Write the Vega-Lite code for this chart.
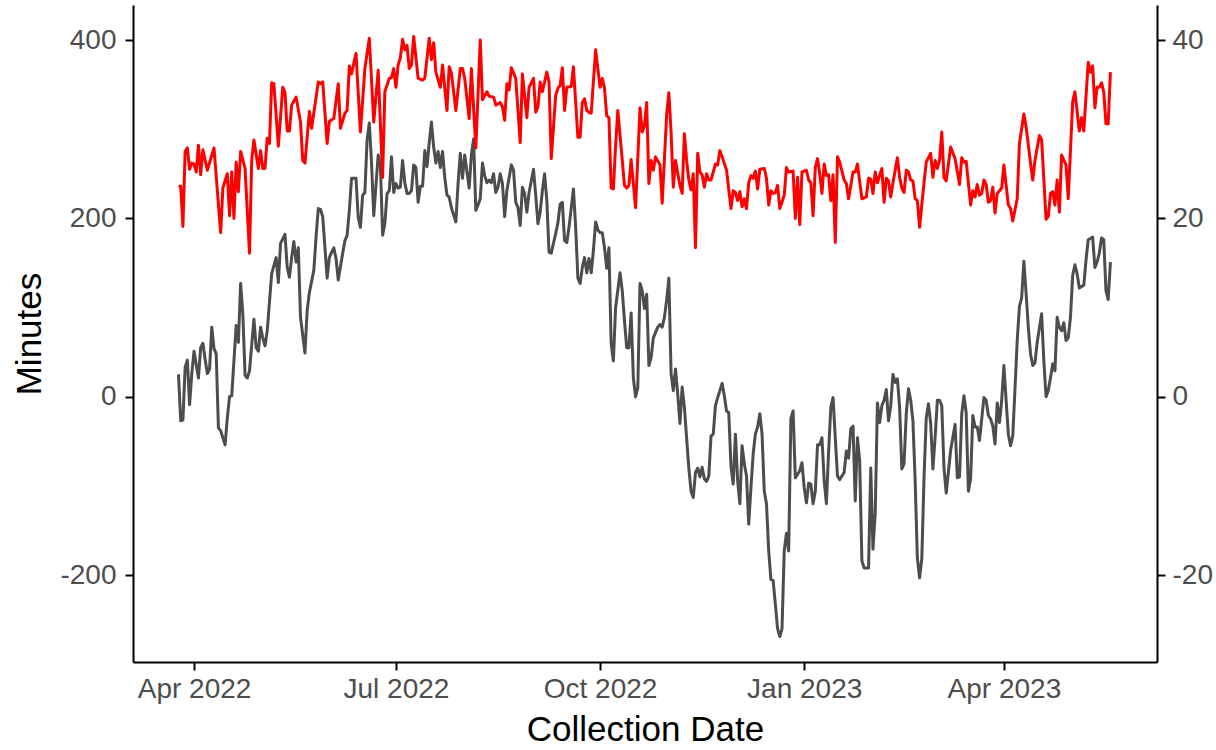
{
"$schema": "https://vega.github.io/schema/vega-lite/v6.json",
"width": 1024, "height": 657,
"autosize": {"type": "none"},
"padding": {"left": 133, "top": 5, "right": 59, "bottom": 88},
"background": "white",
"config": {"view": {"stroke": null}, "font": "Liberation Sans",
 "axis": {"grid": false, "domainColor": "#000000", "domainWidth": 2, "tickColor": "#000000", "tickWidth": 2, "tickSize": 8,
  "labelFont": "Liberation Sans", "labelFontSize": 28, "labelColor": "#4D4D4D", "labelPadding": 6,
  "titleFont": "Liberation Sans", "titleFontSize": 35, "titleFontWeight": "normal", "titleColor": "#000000"}},
"datasets": {
"minutes": [
{"date":"2022-03-25","minutes":25},{"date":"2022-03-26","minutes":-27},{"date":"2022-03-27","minutes":-26},{"date":"2022-03-28","minutes":33},{"date":"2022-03-29","minutes":41},{"date":"2022-03-30","minutes":-9},{"date":"2022-03-31","minutes":26},
{"date":"2022-04-01","minutes":51},{"date":"2022-04-03","minutes":21},{"date":"2022-04-04","minutes":55},{"date":"2022-04-05","minutes":60},{"date":"2022-04-06","minutes":42},{"date":"2022-04-07","minutes":26},{"date":"2022-04-08","minutes":31},{"date":"2022-04-09","minutes":78},{"date":"2022-04-10","minutes":54},{"date":"2022-04-11","minutes":48},{"date":"2022-04-12","minutes":-35},{"date":"2022-04-13","minutes":-38},{"date":"2022-04-15","minutes":-54},{"date":"2022-04-16","minutes":-24},{"date":"2022-04-17","minutes":0},{"date":"2022-04-18","minutes":1},{"date":"2022-04-20","minutes":80},{"date":"2022-04-21","minutes":61},{"date":"2022-04-22","minutes":127},{"date":"2022-04-23","minutes":93},{"date":"2022-04-24","minutes":24},{"date":"2022-04-25","minutes":21},{"date":"2022-04-26","minutes":29},{"date":"2022-04-28","minutes":87},{"date":"2022-04-29","minutes":55},{"date":"2022-04-30","minutes":51},
{"date":"2022-05-01","minutes":78},{"date":"2022-05-02","minutes":66},{"date":"2022-05-03","minutes":57},{"date":"2022-05-04","minutes":74},{"date":"2022-05-06","minutes":138},{"date":"2022-05-07","minutes":147},{"date":"2022-05-08","minutes":156},{"date":"2022-05-09","minutes":128},{"date":"2022-05-10","minutes":172},{"date":"2022-05-12","minutes":182},{"date":"2022-05-13","minutes":145},{"date":"2022-05-14","minutes":134},{"date":"2022-05-15","minutes":156},{"date":"2022-05-16","minutes":174},{"date":"2022-05-17","minutes":151},{"date":"2022-05-18","minutes":167},{"date":"2022-05-19","minutes":89},{"date":"2022-05-21","minutes":49},{"date":"2022-05-22","minutes":97},{"date":"2022-05-23","minutes":117},{"date":"2022-05-25","minutes":142},{"date":"2022-05-26","minutes":179},{"date":"2022-05-27","minutes":211},{"date":"2022-05-28","minutes":210},{"date":"2022-05-29","minutes":202},{"date":"2022-05-31","minutes":133},
{"date":"2022-06-01","minutes":156},{"date":"2022-06-02","minutes":162},{"date":"2022-06-03","minutes":167},{"date":"2022-06-04","minutes":155},{"date":"2022-06-05","minutes":131},{"date":"2022-06-07","minutes":161},{"date":"2022-06-08","minutes":175},{"date":"2022-06-09","minutes":181},{"date":"2022-06-10","minutes":209},{"date":"2022-06-11","minutes":245},{"date":"2022-06-13","minutes":245},{"date":"2022-06-14","minutes":201},{"date":"2022-06-15","minutes":190},{"date":"2022-06-16","minutes":226},{"date":"2022-06-17","minutes":229},{"date":"2022-06-18","minutes":288},{"date":"2022-06-19","minutes":307},{"date":"2022-06-20","minutes":262},{"date":"2022-06-21","minutes":203},{"date":"2022-06-23","minutes":271},{"date":"2022-06-24","minutes":260},{"date":"2022-06-25","minutes":181},{"date":"2022-06-26","minutes":194},{"date":"2022-06-27","minutes":228},{"date":"2022-06-28","minutes":231},{"date":"2022-06-29","minutes":269},{"date":"2022-06-30","minutes":229},
{"date":"2022-07-01","minutes":239},{"date":"2022-07-02","minutes":234},{"date":"2022-07-03","minutes":235},{"date":"2022-07-04","minutes":265},{"date":"2022-07-05","minutes":240},{"date":"2022-07-06","minutes":228},{"date":"2022-07-07","minutes":228},{"date":"2022-07-08","minutes":231},{"date":"2022-07-09","minutes":260},{"date":"2022-07-10","minutes":257},{"date":"2022-07-11","minutes":218},{"date":"2022-07-12","minutes":236},{"date":"2022-07-13","minutes":236},{"date":"2022-07-14","minutes":276},{"date":"2022-07-15","minutes":258},{"date":"2022-07-16","minutes":285},{"date":"2022-07-17","minutes":308},{"date":"2022-07-18","minutes":280},{"date":"2022-07-19","minutes":262},{"date":"2022-07-20","minutes":275},{"date":"2022-07-21","minutes":257},{"date":"2022-07-22","minutes":275},{"date":"2022-07-23","minutes":246},{"date":"2022-07-24","minutes":226},{"date":"2022-07-25","minutes":224},{"date":"2022-07-26","minutes":212},{"date":"2022-07-28","minutes":196},{"date":"2022-07-29","minutes":239},{"date":"2022-07-30","minutes":273},{"date":"2022-07-31","minutes":245},
{"date":"2022-08-01","minutes":271},{"date":"2022-08-03","minutes":234},{"date":"2022-08-04","minutes":271},{"date":"2022-08-05","minutes":289},{"date":"2022-08-06","minutes":209},{"date":"2022-08-07","minutes":215},{"date":"2022-08-08","minutes":222},{"date":"2022-08-09","minutes":262},{"date":"2022-08-10","minutes":248},{"date":"2022-08-11","minutes":240},{"date":"2022-08-12","minutes":243},{"date":"2022-08-13","minutes":240},{"date":"2022-08-14","minutes":250},{"date":"2022-08-15","minutes":229},{"date":"2022-08-16","minutes":235},{"date":"2022-08-17","minutes":250},{"date":"2022-08-18","minutes":239},{"date":"2022-08-19","minutes":202},{"date":"2022-08-20","minutes":231},{"date":"2022-08-22","minutes":260},{"date":"2022-08-23","minutes":254},{"date":"2022-08-24","minutes":218},{"date":"2022-08-25","minutes":212},{"date":"2022-08-26","minutes":192},{"date":"2022-08-27","minutes":235},{"date":"2022-08-28","minutes":228},{"date":"2022-08-29","minutes":207},{"date":"2022-08-30","minutes":229},
{"date":"2022-09-01","minutes":255},{"date":"2022-09-02","minutes":226},{"date":"2022-09-03","minutes":194},{"date":"2022-09-04","minutes":207},{"date":"2022-09-05","minutes":231},{"date":"2022-09-06","minutes":250},{"date":"2022-09-07","minutes":220},{"date":"2022-09-08","minutes":162},{"date":"2022-09-09","minutes":161},{"date":"2022-09-11","minutes":183},{"date":"2022-09-12","minutes":195},{"date":"2022-09-13","minutes":216},{"date":"2022-09-14","minutes":218},{"date":"2022-09-15","minutes":175},{"date":"2022-09-16","minutes":173},{"date":"2022-09-17","minutes":190},{"date":"2022-09-19","minutes":233},{"date":"2022-09-20","minutes":190},{"date":"2022-09-21","minutes":133},{"date":"2022-09-22","minutes":127},{"date":"2022-09-23","minutes":145},{"date":"2022-09-24","minutes":156},{"date":"2022-09-25","minutes":139},{"date":"2022-09-26","minutes":155},{"date":"2022-09-27","minutes":139},{"date":"2022-09-28","minutes":164},{"date":"2022-09-29","minutes":196},{"date":"2022-09-30","minutes":187},
{"date":"2022-10-01","minutes":184},{"date":"2022-10-02","minutes":184},{"date":"2022-10-03","minutes":167},{"date":"2022-10-04","minutes":144},{"date":"2022-10-05","minutes":167},{"date":"2022-10-06","minutes":60},{"date":"2022-10-07","minutes":40},{"date":"2022-10-08","minutes":100},{"date":"2022-10-10","minutes":139},{"date":"2022-10-11","minutes":119},{"date":"2022-10-12","minutes":85},{"date":"2022-10-13","minutes":55},{"date":"2022-10-14","minutes":55},{"date":"2022-10-15","minutes":94},{"date":"2022-10-16","minutes":21},{"date":"2022-10-17","minutes":0},{"date":"2022-10-18","minutes":10},{"date":"2022-10-19","minutes":127},{"date":"2022-10-20","minutes":119},{"date":"2022-10-21","minutes":99},{"date":"2022-10-22","minutes":115},{"date":"2022-10-23","minutes":35},{"date":"2022-10-24","minutes":44},{"date":"2022-10-25","minutes":66},{"date":"2022-10-27","minutes":78},{"date":"2022-10-28","minutes":81},{"date":"2022-10-29","minutes":78},{"date":"2022-10-30","minutes":89},{"date":"2022-10-31","minutes":108},
{"date":"2022-11-01","minutes":133},{"date":"2022-11-02","minutes":26},{"date":"2022-11-03","minutes":7},{"date":"2022-11-04","minutes":31},{"date":"2022-11-05","minutes":3},{"date":"2022-11-06","minutes":-30},{"date":"2022-11-07","minutes":11},{"date":"2022-11-08","minutes":-12},{"date":"2022-11-10","minutes":-80},{"date":"2022-11-11","minutes":-106},{"date":"2022-11-12","minutes":-113},{"date":"2022-11-13","minutes":-85},{"date":"2022-11-14","minutes":-80},{"date":"2022-11-15","minutes":-90},{"date":"2022-11-16","minutes":-79},{"date":"2022-11-17","minutes":-92},{"date":"2022-11-18","minutes":-95},{"date":"2022-11-19","minutes":-89},{"date":"2022-11-20","minutes":-44},{"date":"2022-11-21","minutes":-42},{"date":"2022-11-22","minutes":-10},{"date":"2022-11-23","minutes":-1},{"date":"2022-11-25","minutes":15},{"date":"2022-11-26","minutes":1},{"date":"2022-11-27","minutes":-16},{"date":"2022-11-28","minutes":-18},{"date":"2022-11-29","minutes":-78},{"date":"2022-11-30","minutes":-98},
{"date":"2022-12-01","minutes":-42},{"date":"2022-12-02","minutes":-94},{"date":"2022-12-03","minutes":-120},{"date":"2022-12-04","minutes":-55},{"date":"2022-12-05","minutes":-75},{"date":"2022-12-06","minutes":-89},{"date":"2022-12-07","minutes":-143},{"date":"2022-12-08","minutes":-102},{"date":"2022-12-09","minutes":-64},{"date":"2022-12-10","minutes":-42},{"date":"2022-12-11","minutes":-34},{"date":"2022-12-12","minutes":-19},{"date":"2022-12-13","minutes":-42},{"date":"2022-12-14","minutes":-106},{"date":"2022-12-15","minutes":-120},{"date":"2022-12-16","minutes":-173},{"date":"2022-12-17","minutes":-205},{"date":"2022-12-18","minutes":-206},{"date":"2022-12-19","minutes":-233},{"date":"2022-12-20","minutes":-260},{"date":"2022-12-21","minutes":-269},{"date":"2022-12-22","minutes":-260},{"date":"2022-12-23","minutes":-173},{"date":"2022-12-24","minutes":-153},{"date":"2022-12-25","minutes":-173},{"date":"2022-12-26","minutes":-24},{"date":"2022-12-27","minutes":-16},{"date":"2022-12-28","minutes":-91},{"date":"2022-12-30","minutes":-83},{"date":"2022-12-31","minutes":-74},
{"date":"2023-01-01","minutes":-102},{"date":"2023-01-02","minutes":-119},{"date":"2023-01-03","minutes":-97},{"date":"2023-01-04","minutes":-98},{"date":"2023-01-05","minutes":-120},{"date":"2023-01-06","minutes":-106},{"date":"2023-01-07","minutes":-54},{"date":"2023-01-08","minutes":-54},{"date":"2023-01-09","minutes":-46},{"date":"2023-01-10","minutes":-94},{"date":"2023-01-11","minutes":-120},{"date":"2023-01-12","minutes":-61},{"date":"2023-01-13","minutes":-12},{"date":"2023-01-14","minutes":-1},{"date":"2023-01-15","minutes":-46},{"date":"2023-01-16","minutes":-89},{"date":"2023-01-17","minutes":-93},{"date":"2023-01-19","minutes":-85},{"date":"2023-01-20","minutes":-61},{"date":"2023-01-21","minutes":-69},{"date":"2023-01-22","minutes":-36},{"date":"2023-01-23","minutes":-33},{"date":"2023-01-24","minutes":-117},{"date":"2023-01-25","minutes":-46},{"date":"2023-01-26","minutes":-72},{"date":"2023-01-27","minutes":-184},{"date":"2023-01-28","minutes":-192},{"date":"2023-01-30","minutes":-192},{"date":"2023-01-31","minutes":-80},
{"date":"2023-02-01","minutes":-171},{"date":"2023-02-02","minutes":-131},{"date":"2023-02-03","minutes":-7},{"date":"2023-02-04","minutes":-29},{"date":"2023-02-05","minutes":-10},{"date":"2023-02-06","minutes":-4},{"date":"2023-02-07","minutes":8},{"date":"2023-02-08","minutes":-27},{"date":"2023-02-09","minutes":-10},{"date":"2023-02-10","minutes":25},{"date":"2023-02-11","minutes":16},{"date":"2023-02-12","minutes":20},{"date":"2023-02-13","minutes":-12},{"date":"2023-02-14","minutes":-81},{"date":"2023-02-15","minutes":-75},{"date":"2023-02-16","minutes":-19},{"date":"2023-02-17","minutes":9},{"date":"2023-02-18","minutes":-4},{"date":"2023-02-19","minutes":-27},{"date":"2023-02-20","minutes":-94},{"date":"2023-02-21","minutes":-181},{"date":"2023-02-22","minutes":-203},{"date":"2023-02-23","minutes":-182},{"date":"2023-02-24","minutes":-91},{"date":"2023-02-25","minutes":-24},{"date":"2023-02-26","minutes":-8},{"date":"2023-02-27","minutes":-30},{"date":"2023-02-28","minutes":-81},
{"date":"2023-03-01","minutes":-46},{"date":"2023-03-02","minutes":-4},{"date":"2023-03-03","minutes":-4},{"date":"2023-03-04","minutes":-10},{"date":"2023-03-05","minutes":-80},{"date":"2023-03-06","minutes":-108},{"date":"2023-03-08","minutes":-60},{"date":"2023-03-10","minutes":-31},{"date":"2023-03-11","minutes":-91},{"date":"2023-03-12","minutes":-90},{"date":"2023-03-13","minutes":-19},{"date":"2023-03-14","minutes":1},{"date":"2023-03-15","minutes":-18},{"date":"2023-03-16","minutes":-106},{"date":"2023-03-17","minutes":-92},{"date":"2023-03-18","minutes":-21},{"date":"2023-03-19","minutes":-34},{"date":"2023-03-20","minutes":-34},{"date":"2023-03-21","minutes":-49},{"date":"2023-03-22","minutes":-25},{"date":"2023-03-23","minutes":-1},{"date":"2023-03-24","minutes":-4},{"date":"2023-03-25","minutes":-21},{"date":"2023-03-26","minutes":-25},{"date":"2023-03-27","minutes":-33},{"date":"2023-03-28","minutes":-53},{"date":"2023-03-29","minutes":-7},{"date":"2023-03-30","minutes":-29},{"date":"2023-03-31","minutes":-4},
{"date":"2023-04-01","minutes":35},{"date":"2023-04-02","minutes":-4},{"date":"2023-04-03","minutes":-42},{"date":"2023-04-04","minutes":-55},{"date":"2023-04-05","minutes":-44},{"date":"2023-04-06","minutes":9},{"date":"2023-04-07","minutes":63},{"date":"2023-04-08","minutes":101},{"date":"2023-04-09","minutes":111},{"date":"2023-04-10","minutes":152},{"date":"2023-04-11","minutes":116},{"date":"2023-04-12","minutes":78},{"date":"2023-04-13","minutes":48},{"date":"2023-04-14","minutes":35},{"date":"2023-04-15","minutes":38},{"date":"2023-04-16","minutes":61},{"date":"2023-04-18","minutes":93},{"date":"2023-04-19","minutes":40},{"date":"2023-04-20","minutes":0},{"date":"2023-04-21","minutes":7},{"date":"2023-04-22","minutes":21},{"date":"2023-04-23","minutes":37},{"date":"2023-04-24","minutes":29},{"date":"2023-04-25","minutes":89},{"date":"2023-04-26","minutes":78},{"date":"2023-04-27","minutes":74},{"date":"2023-04-28","minutes":83},{"date":"2023-04-29","minutes":63},{"date":"2023-04-30","minutes":66},
{"date":"2023-05-01","minutes":89},{"date":"2023-05-02","minutes":136},{"date":"2023-05-03","minutes":148},{"date":"2023-05-04","minutes":138},{"date":"2023-05-05","minutes":122},{"date":"2023-05-07","minutes":125},{"date":"2023-05-08","minutes":153},{"date":"2023-05-09","minutes":176},{"date":"2023-05-11","minutes":179},{"date":"2023-05-12","minutes":145},{"date":"2023-05-13","minutes":151},{"date":"2023-05-14","minutes":161},{"date":"2023-05-15","minutes":178},{"date":"2023-05-16","minutes":176},{"date":"2023-05-17","minutes":119},{"date":"2023-05-18","minutes":109},{"date":"2023-05-19","minutes":151}
],
"secondary": [
{"date":"2022-03-25","value":23.6},{"date":"2022-03-26","value":23.6},{"date":"2022-03-27","value":19.1},{"date":"2022-03-28","value":27.5},{"date":"2022-03-29","value":27.9},{"date":"2022-03-30","value":25.5},{"date":"2022-03-31","value":26.2},
{"date":"2022-04-01","value":26.1},{"date":"2022-04-02","value":25.2},{"date":"2022-04-03","value":28.2},{"date":"2022-04-04","value":24.9},{"date":"2022-04-05","value":27.7},{"date":"2022-04-07","value":25.4},{"date":"2022-04-10","value":27.9},{"date":"2022-04-13","value":18.4},{"date":"2022-04-14","value":23.4},{"date":"2022-04-16","value":25.0},{"date":"2022-04-17","value":20.3},{"date":"2022-04-18","value":25.2},{"date":"2022-04-19","value":20.0},{"date":"2022-04-20","value":26.3},{"date":"2022-04-21","value":23.0},{"date":"2022-04-22","value":27.5},{"date":"2022-04-24","value":25.6},{"date":"2022-04-26","value":16.1},{"date":"2022-04-27","value":26.5},{"date":"2022-04-28","value":28.8},{"date":"2022-04-30","value":25.6},
{"date":"2022-05-01","value":27.6},{"date":"2022-05-02","value":25.6},{"date":"2022-05-03","value":25.6},{"date":"2022-05-04","value":29.0},{"date":"2022-05-05","value":28.4},{"date":"2022-05-06","value":35.2},{"date":"2022-05-07","value":35.1},{"date":"2022-05-09","value":28.1},{"date":"2022-05-11","value":34.7},{"date":"2022-05-12","value":34.1},{"date":"2022-05-13","value":29.8},{"date":"2022-05-14","value":29.8},{"date":"2022-05-15","value":32.7},{"date":"2022-05-17","value":33.6},{"date":"2022-05-19","value":30.8},{"date":"2022-05-20","value":26.5},{"date":"2022-05-21","value":26.2},{"date":"2022-05-23","value":32.0},{"date":"2022-05-24","value":30.1},{"date":"2022-05-27","value":35.3},{"date":"2022-05-28","value":35.1},{"date":"2022-05-29","value":35.3},{"date":"2022-05-31","value":28.4},
{"date":"2022-06-01","value":30.9},{"date":"2022-06-03","value":31.2},{"date":"2022-06-05","value":35.1},{"date":"2022-06-06","value":30.1},{"date":"2022-06-08","value":31.8},{"date":"2022-06-09","value":32.1},{"date":"2022-06-10","value":37.1},{"date":"2022-06-11","value":36.2},{"date":"2022-06-13","value":38.5},{"date":"2022-06-15","value":29.7},{"date":"2022-06-17","value":36.8},{"date":"2022-06-19","value":40.2},{"date":"2022-06-21","value":30.8},{"date":"2022-06-23","value":36.6},{"date":"2022-06-25","value":24.6},{"date":"2022-06-26","value":34.2},{"date":"2022-06-28","value":35.7},{"date":"2022-06-29","value":35.8},{"date":"2022-06-30","value":36.8},
{"date":"2022-07-01","value":34.7},{"date":"2022-07-02","value":37.2},{"date":"2022-07-03","value":38.0},{"date":"2022-07-04","value":40.1},{"date":"2022-07-05","value":38.9},{"date":"2022-07-06","value":39.4},{"date":"2022-07-07","value":36.8},{"date":"2022-07-08","value":37.2},{"date":"2022-07-09","value":40.4},{"date":"2022-07-11","value":35.7},{"date":"2022-07-13","value":35.5},{"date":"2022-07-14","value":35.7},{"date":"2022-07-16","value":40.2},{"date":"2022-07-17","value":37.8},{"date":"2022-07-18","value":39.7},{"date":"2022-07-19","value":36.4},{"date":"2022-07-21","value":34.7},{"date":"2022-07-22","value":37.2},{"date":"2022-07-24","value":32.1},{"date":"2022-07-25","value":37.0},{"date":"2022-07-26","value":36.3},{"date":"2022-07-28","value":32.1},{"date":"2022-07-30","value":36.8},{"date":"2022-07-31","value":36.8},
{"date":"2022-08-01","value":35.7},{"date":"2022-08-03","value":31.2},{"date":"2022-08-04","value":36.8},{"date":"2022-08-06","value":27.9},{"date":"2022-08-08","value":40.0},{"date":"2022-08-09","value":33.3},{"date":"2022-08-11","value":34.2},{"date":"2022-08-12","value":33.7},{"date":"2022-08-14","value":33.6},{"date":"2022-08-15","value":32.7},{"date":"2022-08-17","value":33.0},{"date":"2022-08-18","value":32.5},{"date":"2022-08-19","value":31.0},{"date":"2022-08-20","value":35.1},{"date":"2022-08-21","value":34.4},{"date":"2022-08-22","value":36.9},{"date":"2022-08-24","value":35.7},{"date":"2022-08-26","value":28.5},{"date":"2022-08-27","value":36.2},{"date":"2022-08-29","value":31.3},{"date":"2022-08-30","value":34.7},
{"date":"2022-09-01","value":35.7},{"date":"2022-09-02","value":31.9},{"date":"2022-09-03","value":32.5},{"date":"2022-09-04","value":35.3},{"date":"2022-09-05","value":34.2},{"date":"2022-09-07","value":36.4},{"date":"2022-09-08","value":35.3},{"date":"2022-09-09","value":26.7},{"date":"2022-09-11","value":33.8},{"date":"2022-09-12","value":34.6},{"date":"2022-09-13","value":34.9},{"date":"2022-09-14","value":36.9},{"date":"2022-09-15","value":32.1},{"date":"2022-09-16","value":34.7},{"date":"2022-09-18","value":34.8},{"date":"2022-09-19","value":37.0},{"date":"2022-09-21","value":29.1},{"date":"2022-09-22","value":29.1},{"date":"2022-09-23","value":33.0},{"date":"2022-09-24","value":33.4},{"date":"2022-09-25","value":32.1},{"date":"2022-09-26","value":31.9},{"date":"2022-09-27","value":31.8},{"date":"2022-09-29","value":38.9},
{"date":"2022-10-01","value":34.7},{"date":"2022-10-02","value":35.7},{"date":"2022-10-03","value":34.6},{"date":"2022-10-04","value":31.5},{"date":"2022-10-05","value":31.3},{"date":"2022-10-06","value":23.4},{"date":"2022-10-07","value":23.3},{"date":"2022-10-08","value":28.2},{"date":"2022-10-09","value":32.1},{"date":"2022-10-12","value":23.7},{"date":"2022-10-13","value":23.4},{"date":"2022-10-14","value":23.7},{"date":"2022-10-15","value":26.6},{"date":"2022-10-17","value":21.2},{"date":"2022-10-19","value":32.4},{"date":"2022-10-20","value":29.7},{"date":"2022-10-21","value":30.4},{"date":"2022-10-22","value":33.0},{"date":"2022-10-23","value":23.9},{"date":"2022-10-24","value":26.5},{"date":"2022-10-25","value":25.4},{"date":"2022-10-26","value":26.9},{"date":"2022-10-28","value":26.0},{"date":"2022-10-29","value":21.7},{"date":"2022-10-31","value":31.6},
{"date":"2022-11-01","value":34.1},{"date":"2022-11-02","value":29.7},{"date":"2022-11-03","value":23.5},{"date":"2022-11-04","value":26.5},{"date":"2022-11-06","value":23.7},{"date":"2022-11-07","value":22.8},{"date":"2022-11-08","value":29.5},{"date":"2022-11-09","value":26.5},{"date":"2022-11-10","value":24.3},{"date":"2022-11-11","value":23.2},{"date":"2022-11-12","value":25.0},{"date":"2022-11-13","value":16.7},{"date":"2022-11-14","value":27.3},{"date":"2022-11-15","value":25.2},{"date":"2022-11-16","value":24.9},{"date":"2022-11-17","value":23.5},{"date":"2022-11-18","value":25.0},{"date":"2022-11-19","value":24.3},{"date":"2022-11-20","value":24.3},{"date":"2022-11-22","value":26.1},{"date":"2022-11-23","value":26.0},{"date":"2022-11-24","value":27.6},{"date":"2022-11-25","value":26.9},{"date":"2022-11-27","value":25.4},{"date":"2022-11-29","value":21.1},{"date":"2022-11-30","value":23.1},
{"date":"2022-12-01","value":22.9},{"date":"2022-12-02","value":22.0},{"date":"2022-12-03","value":23.0},{"date":"2022-12-04","value":21.3},{"date":"2022-12-05","value":22.2},{"date":"2022-12-06","value":21.1},{"date":"2022-12-07","value":24.0},{"date":"2022-12-08","value":24.8},{"date":"2022-12-09","value":24.5},{"date":"2022-12-10","value":25.3},{"date":"2022-12-11","value":23.3},{"date":"2022-12-12","value":25.5},{"date":"2022-12-14","value":25.6},{"date":"2022-12-15","value":24.5},{"date":"2022-12-16","value":21.5},{"date":"2022-12-17","value":23.1},{"date":"2022-12-18","value":22.8},{"date":"2022-12-19","value":22.9},{"date":"2022-12-20","value":23.7},{"date":"2022-12-21","value":21.1},{"date":"2022-12-23","value":22.6},{"date":"2022-12-24","value":25.7},{"date":"2022-12-25","value":25.2},{"date":"2022-12-27","value":25.3},{"date":"2022-12-28","value":20.0},{"date":"2022-12-29","value":24.6},{"date":"2022-12-30","value":19.3},{"date":"2022-12-31","value":25.2},
{"date":"2023-01-02","value":25.4},{"date":"2023-01-03","value":24.3},{"date":"2023-01-04","value":24.0},{"date":"2023-01-05","value":20.3},{"date":"2023-01-06","value":25.7},{"date":"2023-01-07","value":26.7},{"date":"2023-01-08","value":25.0},{"date":"2023-01-09","value":22.8},{"date":"2023-01-10","value":26.1},{"date":"2023-01-11","value":24.8},{"date":"2023-01-12","value":24.9},{"date":"2023-01-13","value":22.0},{"date":"2023-01-14","value":24.9},{"date":"2023-01-15","value":17.3},{"date":"2023-01-16","value":26.9},{"date":"2023-01-17","value":26.3},{"date":"2023-01-19","value":24.3},{"date":"2023-01-20","value":23.9},{"date":"2023-01-21","value":22.2},{"date":"2023-01-23","value":25.2},{"date":"2023-01-24","value":25.2},{"date":"2023-01-25","value":26.1},{"date":"2023-01-27","value":22.2},{"date":"2023-01-29","value":22.4},{"date":"2023-01-30","value":24.5},{"date":"2023-01-31","value":24.4},
{"date":"2023-02-01","value":22.8},{"date":"2023-02-02","value":25.2},{"date":"2023-02-03","value":24.0},{"date":"2023-02-05","value":25.6},{"date":"2023-02-06","value":21.8},{"date":"2023-02-07","value":24.5},{"date":"2023-02-08","value":24.2},{"date":"2023-02-09","value":22.4},{"date":"2023-02-10","value":24.0},{"date":"2023-02-12","value":26.8},{"date":"2023-02-13","value":24.6},{"date":"2023-02-14","value":23.4},{"date":"2023-02-15","value":22.9},{"date":"2023-02-16","value":25.4},{"date":"2023-02-17","value":25.2},{"date":"2023-02-18","value":24.3},{"date":"2023-02-19","value":24.2},{"date":"2023-02-20","value":22.2},{"date":"2023-02-21","value":22.0},{"date":"2023-02-22","value":19.0},{"date":"2023-02-24","value":24.0},{"date":"2023-02-25","value":26.3},{"date":"2023-02-27","value":27.3},{"date":"2023-02-28","value":24.6},
{"date":"2023-03-01","value":26.5},{"date":"2023-03-02","value":25.6},{"date":"2023-03-03","value":26.5},{"date":"2023-03-04","value":29.7},{"date":"2023-03-05","value":24.6},{"date":"2023-03-06","value":24.2},{"date":"2023-03-08","value":28.0},{"date":"2023-03-10","value":26.7},{"date":"2023-03-12","value":23.8},{"date":"2023-03-13","value":26.8},{"date":"2023-03-14","value":26.3},{"date":"2023-03-15","value":26.4},{"date":"2023-03-17","value":21.5},{"date":"2023-03-18","value":23.1},{"date":"2023-03-19","value":22.4},{"date":"2023-03-20","value":23.8},{"date":"2023-03-21","value":22.6},{"date":"2023-03-22","value":22.8},{"date":"2023-03-23","value":24.3},{"date":"2023-03-24","value":23.8},{"date":"2023-03-25","value":21.8},{"date":"2023-03-26","value":22.0},{"date":"2023-03-27","value":23.5},{"date":"2023-03-28","value":20.6},{"date":"2023-03-29","value":22.8},{"date":"2023-03-30","value":23.1},{"date":"2023-03-31","value":23.4},
{"date":"2023-04-01","value":26.0},{"date":"2023-04-03","value":21.5},{"date":"2023-04-04","value":21.1},{"date":"2023-04-05","value":19.7},{"date":"2023-04-07","value":22.2},{"date":"2023-04-08","value":28.4},{"date":"2023-04-10","value":31.7},{"date":"2023-04-11","value":30.3},{"date":"2023-04-13","value":26.2},{"date":"2023-04-14","value":24.3},{"date":"2023-04-15","value":26.5},{"date":"2023-04-17","value":29.3},{"date":"2023-04-18","value":28.8},{"date":"2023-04-20","value":19.9},{"date":"2023-04-21","value":20.2},{"date":"2023-04-22","value":22.8},{"date":"2023-04-23","value":23.0},{"date":"2023-04-24","value":21.5},{"date":"2023-04-25","value":24.3},{"date":"2023-04-26","value":20.7},{"date":"2023-04-27","value":27.1},{"date":"2023-04-29","value":26.0},{"date":"2023-04-30","value":22.2},
{"date":"2023-05-02","value":33.1},{"date":"2023-05-03","value":34.2},{"date":"2023-05-05","value":29.8},{"date":"2023-05-06","value":31.3},{"date":"2023-05-07","value":29.8},{"date":"2023-05-09","value":37.5},{"date":"2023-05-10","value":36.4},{"date":"2023-05-11","value":37.1},{"date":"2023-05-12","value":32.4},{"date":"2023-05-13","value":34.7},{"date":"2023-05-14","value":34.7},{"date":"2023-05-15","value":35.2},{"date":"2023-05-16","value":34.2},{"date":"2023-05-17","value":30.6},{"date":"2023-05-18","value":30.6},{"date":"2023-05-19","value":36.4}
]
},
"layer": [
{"data": {"name": "minutes"},
 "mark": {"type": "line", "color": "#4D4D4D", "strokeWidth": 3, "strokeJoin": "round"},
 "encoding": {
  "x": {"field": "date", "type": "temporal",
   "scale": {"type": "utc", "domain": [{"year": 2022, "month": 3, "date": 4, "hours": 12, "utc": true}, {"year": 2023, "month": 6, "date": 9, "utc": true}]},
   "axis": {"title": "Collection Date", "format": "%b %Y", "labelPadding": 5, "titlePadding": 9,
    "values": [{"year": 2022, "month": 4, "date": 1, "utc": true}, {"year": 2022, "month": 7, "date": 1, "utc": true}, {"year": 2022, "month": 10, "date": 1, "utc": true}, {"year": 2023, "month": 1, "date": 1, "utc": true}, {"year": 2023, "month": 4, "date": 1, "utc": true}]}},
  "y": {"field": "minutes", "type": "quantitative",
   "scale": {"domain": [-297.5, 439.3], "nice": false, "zero": false},
   "axis": {"title": "Minutes", "orient": "left", "values": [-200, 0, 200, 400], "labelExpr": "'' + datum.value", "labelPadding": 9, "titlePadding": 12}}
 }},
{"data": {"name": "secondary"},
 "mark": {"type": "line", "color": "#FF0000", "strokeWidth": 3, "strokeJoin": "round"},
 "encoding": {
  "x": {"field": "date", "type": "temporal",
   "scale": {"type": "utc", "domain": [{"year": 2022, "month": 3, "date": 4, "hours": 12, "utc": true}, {"year": 2023, "month": 6, "date": 9, "utc": true}]},
   "axis": {"title": "Collection Date", "format": "%b %Y", "labelPadding": 5, "titlePadding": 9,
    "values": [{"year": 2022, "month": 4, "date": 1, "utc": true}, {"year": 2022, "month": 7, "date": 1, "utc": true}, {"year": 2022, "month": 10, "date": 1, "utc": true}, {"year": 2023, "month": 1, "date": 1, "utc": true}, {"year": 2023, "month": 4, "date": 1, "utc": true}]}},
  "y": {"field": "value", "type": "quantitative",
   "scale": {"domain": [-29.75, 43.93], "nice": false, "zero": false},
   "axis": {"title": null, "orient": "right", "values": [-20, 0, 20, 40], "labelExpr": "'' + datum.value", "labelPadding": 7}}
 }}
],
"resolve": {"scale": {"y": "independent"}}
}
